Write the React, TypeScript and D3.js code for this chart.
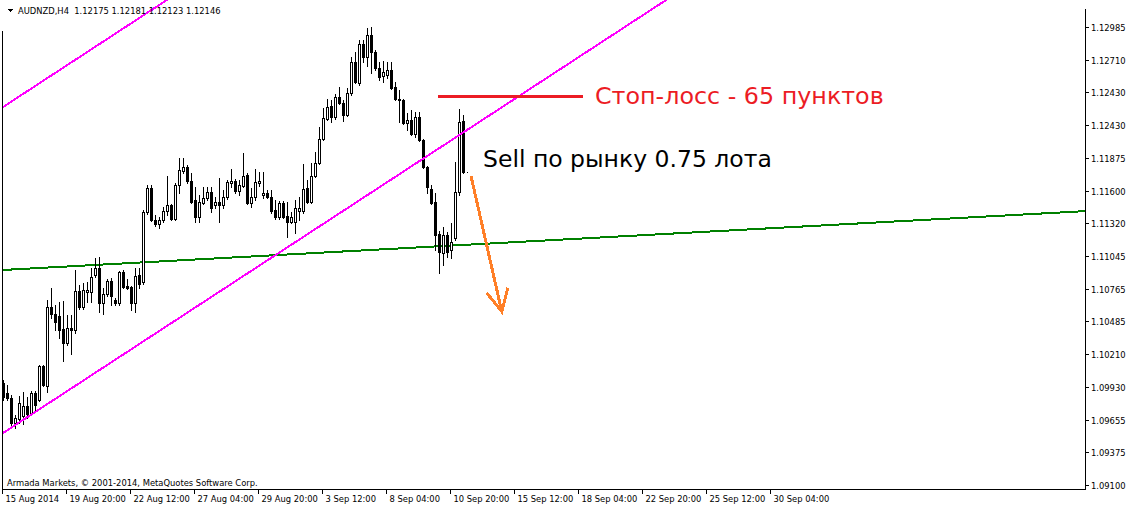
import React from "react";
import * as d3 from "d3";

// ---- Data (AUDNZD, H4) ----
const opens = [
  1.09965, 1.09881, 1.09838, 1.09626, 1.09660, 1.09685, 1.09770, 1.09711, 1.09881, 1.09821,
  1.10109, 1.09939, 1.10610, 1.10550, 1.10533, 1.10423, 1.10305, 1.10432, 1.10415, 1.10746,
  1.10610, 1.10737, 1.10737, 1.10882, 1.10941, 1.10644, 1.10720, 1.10831, 1.10669, 1.10644,
  1.10907, 1.10788, 1.10780, 1.10644, 1.10882, 1.10822, 1.11416, 1.11619, 1.11348, 1.11314,
  1.11348, 1.11425, 1.11475, 1.11356, 1.11645, 1.11764, 1.11797, 1.11679, 1.11517, 1.11373,
  1.11492, 1.11534, 1.11585, 1.11475, 1.11500, 1.11475, 1.11542, 1.11662, 1.11679, 1.11594,
  1.11636, 1.11730, 1.11492, 1.11542, 1.11662, 1.11560, 1.11577, 1.11542, 1.11433, 1.11373,
  1.11492, 1.11382, 1.11331, 1.11331, 1.11425, 1.11425, 1.11619, 1.11500, 1.11721, 1.11832,
  1.12034, 1.12205, 1.12315, 1.12221, 1.12391, 1.12341, 1.12239, 1.12425, 1.12688, 1.12510,
  1.12841, 1.12731, 1.12917, 1.12773, 1.12637, 1.12569, 1.12578, 1.12620, 1.12476, 1.12374,
  1.12366, 1.12171, 1.12196, 1.12077, 1.12221, 1.12026, 1.11797, 1.11611, 1.11500, 1.11229,
  1.11068, 1.11221, 1.11093, 1.11195, 1.11585, 1.12188, 1.11755,
];
const highs = [
  1.09990, 1.09948, 1.09864, 1.09694, 1.09855, 1.09889, 1.09847, 1.09898, 1.09898, 1.10118,
  1.10118, 1.10669, 1.10771, 1.10627, 1.10652, 1.10661, 1.10542, 1.10542, 1.10924, 1.10797,
  1.10814, 1.10822, 1.10941, 1.11025, 1.11033, 1.10771, 1.10847, 1.10856, 1.10686, 1.10916,
  1.10924, 1.10847, 1.10788, 1.10941, 1.10941, 1.11433, 1.11645, 1.11645, 1.11390, 1.11373,
  1.11458, 1.11721, 1.11483, 1.11662, 1.11874, 1.11874, 1.11814, 1.11747, 1.11627, 1.11560,
  1.11627, 1.11627, 1.11627, 1.11542, 1.11704, 1.11602, 1.11687, 1.11780, 1.11695, 1.11687,
  1.11917, 1.11747, 1.11619, 1.11780, 1.11755, 1.11755, 1.11602, 1.11602, 1.11517, 1.11509,
  1.11509, 1.11500, 1.11416, 1.11517, 1.11542, 1.11823, 1.11687, 1.11832, 1.11925, 1.12136,
  1.12298, 1.12374, 1.12366, 1.12417, 1.12476, 1.12366, 1.12468, 1.12731, 1.12773, 1.12875,
  1.12875, 1.12977, 1.12985, 1.12790, 1.12688, 1.12696, 1.12688, 1.12688, 1.12518, 1.12451,
  1.12374, 1.12256, 1.12281, 1.12264, 1.12264, 1.12035, 1.11806, 1.11645, 1.11577, 1.11255,
  1.11288, 1.11246, 1.11323, 1.11840, 1.12289, 1.12239, 1.11755,
];
const lows = [
  1.09821, 1.09821, 1.09583, 1.09583, 1.09626, 1.09617, 1.09668, 1.09702, 1.09736, 1.09813,
  1.09939, 1.09889, 1.10516, 1.10415, 1.10347, 1.10152, 1.10288, 1.10211, 1.10390, 1.10593,
  1.10593, 1.10652, 1.10652, 1.10865, 1.10567, 1.10550, 1.10703, 1.10627, 1.10627, 1.10627,
  1.10771, 1.10762, 1.10584, 1.10567, 1.10771, 1.10805, 1.11399, 1.11340, 1.11297, 1.11280,
  1.11331, 1.11390, 1.11348, 1.11348, 1.11577, 1.11747, 1.11662, 1.11492, 1.11331, 1.11331,
  1.11483, 1.11517, 1.11416, 1.11450, 1.11331, 1.11450, 1.11525, 1.11627, 1.11577, 1.11560,
  1.11627, 1.11483, 1.11458, 1.11517, 1.11636, 1.11534, 1.11534, 1.11408, 1.11356, 1.11356,
  1.11365, 1.11203, 1.11322, 1.11238, 1.11348, 1.11408, 1.11492, 1.11492, 1.11713, 1.11823,
  1.12026, 1.12196, 1.12179, 1.12205, 1.12332, 1.12188, 1.12230, 1.12408, 1.12510, 1.12493,
  1.12688, 1.12654, 1.12595, 1.12620, 1.12535, 1.12518, 1.12552, 1.12459, 1.12366, 1.12179,
  1.12162, 1.12111, 1.12069, 1.12052, 1.12018, 1.11789, 1.11577, 1.11483, 1.11093, 1.10899,
  1.10967, 1.11034, 1.11025, 1.11178, 1.11560, 1.11747, 1.11755,
];
const closes = [
  1.09847, 1.09838, 1.09626, 1.09668, 1.09796, 1.09770, 1.09702, 1.09881, 1.09779, 1.10109,
  1.09948, 1.10610, 1.10550, 1.10482, 1.10415, 1.10305, 1.10432, 1.10415, 1.10746, 1.10610,
  1.10754, 1.10754, 1.10865, 1.10941, 1.10644, 1.10720, 1.10831, 1.10703, 1.10644, 1.10907,
  1.10780, 1.10771, 1.10644, 1.10873, 1.10805, 1.11416, 1.11619, 1.11348, 1.11314, 1.11348,
  1.11425, 1.11475, 1.11356, 1.11645, 1.11772, 1.11797, 1.11679, 1.11500, 1.11373, 1.11500,
  1.11534, 1.11585, 1.11450, 1.11500, 1.11475, 1.11542, 1.11670, 1.11679, 1.11594, 1.11645,
  1.11721, 1.11492, 1.11542, 1.11670, 1.11679, 1.11577, 1.11542, 1.11425, 1.11373, 1.11492,
  1.11373, 1.11331, 1.11373, 1.11450, 1.11450, 1.11610, 1.11500, 1.11721, 1.11832, 1.12034,
  1.12213, 1.12306, 1.12221, 1.12391, 1.12341, 1.12239, 1.12425, 1.12688, 1.12518, 1.12841,
  1.12731, 1.12917, 1.12773, 1.12637, 1.12561, 1.12603, 1.12620, 1.12468, 1.12374, 1.12366,
  1.12171, 1.12196, 1.12077, 1.12221, 1.12026, 1.11797, 1.11627, 1.11492, 1.11221, 1.11076,
  1.11221, 1.11076, 1.11161, 1.11585, 1.12179, 1.11755, 1.11755,
];

const priceTickValues = [
  1.12985, 1.12708, 1.1243, 1.12153, 1.11875, 1.11598, 1.1132, 1.11043,
  1.10765, 1.10488, 1.1021, 1.09933, 1.09655, 1.09378, 1.091,
];
const priceTickLabels = [
  "1.12985", "1.12710", "1.12430", "1.12430", "1.11875", "1.11600", "1.11320", "1.11045",
  "1.10765", "1.10485", "1.10210", "1.09930", "1.09655", "1.09375", "1.09100",
];
const timeTickBars = [0, 16, 32, 48, 64, 80, 96, 112, 128, 144, 160, 176, 192];
const timeTickLabels = [
  "15 Aug 2014", "19 Aug 20:00", "22 Aug 12:00", "27 Aug 04:00", "29 Aug 20:00",
  "3 Sep 12:00", "8 Sep 04:00", "10 Sep 20:00", "15 Sep 12:00", "18 Sep 04:00",
  "22 Sep 20:00", "25 Sep 12:00", "30 Sep 04:00",
];

// trend lines: [barIndex, price] anchors
const channelLower = [[0, 1.09541], [116, 1.12111]];
const channelUpper = [[0, 1.12306], [40, 1.13193]];
const supportLine = [[0, 1.10924], [116, 1.11138]];
const stopLoss = { from: 108.75, to: 145, price: 1.124 };
const arrowShaft = [[117, 1.11721], [124.7, 1.1057]];
const arrowWings = [[120.9, 1.10731], [124.7, 1.1057], [126.2, 1.10773]];
const stopText = { bar: 148, price: 1.12332, text: "Стоп-лосс - 65 пунктов" };
const sellText = { bar: 120, price: 1.11797, text: "Sell по рынку 0.75 лота" };
const headerText = "AUDNZD,H4  1.12175 1.12181 1.12123 1.12146";
const copyrightText = "Armada Markets, © 2001-2014, MetaQuotes Software Corp.";

const W = 1129;
const H = 507;
const PL = 2.5, PR = 1085.5, PB = 489.5;

const smallFont = "'DejaVu Sans Condensed', 'DejaVu Sans', sans-serif";
const bigFont = "'DejaVu Sans', Verdana, sans-serif";
const smallSize = 9.3;

export default function App() {
  const x = d3.scaleLinear().domain([0, 270.5]).range([3, 1085]);
  const y = d3.scaleLinear().domain([1.091, 1.12985]).range([485, 27]);

  const rayPath = (pts: number[][]) => {
    const [a, b] = pts;
    const slope = (y(b[1]) - y(a[1])) / (x(b[0]) - x(a[0]));
    const x0 = 0, x1 = 1129;
    const ya = y(a[1]);
    const xa = x(a[0]);
    return d3.line()([
      [x0, ya + slope * (x0 - xa)],
      [x1, ya + slope * (x1 - xa)],
    ]) as string;
  };

  const candles = opens.map((o, i) => {
    const c = closes[i];
    const px = Math.round(x(i));
    const yo = Math.round(y(o));
    const yc = Math.round(y(c));
    const yh = Math.round(y(highs[i]));
    const yl = Math.round(y(lows[i]));
    const bull = c > o;
    const top = Math.min(yo, yc);
    const bot = Math.max(yo, yc);
    return (
      <g key={i}>
        <line x1={px + 0.5} x2={px + 0.5} y1={yh} y2={yl + 1} stroke="#000" strokeWidth={1} />
        <rect
          x={px - 0.5}
          y={top + 0.5}
          width={2}
          height={bot - top}
          fill={bull ? "#fff" : "#000"}
          stroke="#000"
          strokeWidth={1}
        />
      </g>
    );
  });

  const line = d3.line();

  return (
    <svg
      width={W}
      height={H}
      style={{ position: "absolute", left: 0, top: 0, background: "#fff", display: "block" }}
      shapeRendering="crispEdges"
    >
      <defs>
        <clipPath id="plot">
          <rect x={PL + 0.5} y={0} width={PR - PL - 1} height={PB} />
        </clipPath>
      </defs>
      <rect x={0} y={0} width={W} height={H} fill="#fff" />

      <g clipPath="url(#plot)">
        <path d={rayPath(supportLine)} stroke="#008000" strokeWidth={2} fill="none" />
        {candles}
        <path d={rayPath(channelLower)} stroke="#ff00ff" strokeWidth={2} fill="none" />
        <path d={rayPath(channelUpper)} stroke="#ff00ff" strokeWidth={2} fill="none" />
        <line
          x1={x(stopLoss.from)}
          x2={x(stopLoss.to)}
          y1={Math.round(y(stopLoss.price))}
          y2={Math.round(y(stopLoss.price))}
          stroke="#ec1c24"
          strokeWidth={3}
        />
        <path
          d={line(arrowShaft.map((p) => [x(p[0]), y(p[1])]) as [number, number][]) as string}
          stroke="#ff7f27"
          strokeWidth={3}
          fill="none"
        />
        <path
          d={line(arrowWings.map((p) => [x(p[0]), y(p[1])]) as [number, number][]) as string}
          stroke="#ff7f27"
          strokeWidth={3}
          fill="none"
        />
      </g>

      {/* frame */}
      <line x1={PL} x2={PL} y1={31} y2={PB} stroke="#000" strokeWidth={1} />
      <line x1={PR} x2={PR} y1={9} y2={PB} stroke="#000" strokeWidth={1} />
      <line x1={PL} x2={PR} y1={PB} y2={PB} stroke="#000" strokeWidth={1} />

      {/* price axis */}
      {priceTickValues.map((v, k) => {
        const yy = Math.round(y(v)) + 0.5;
        return (
          <g key={"p" + k}>
            <line x1={PR} x2={PR + 3} y1={yy} y2={yy} stroke="#000" strokeWidth={1} />
            <text x={1091} y={yy + 3.5} fontFamily={smallFont} fontSize={smallSize} fill="#000">
              {priceTickLabels[k]}
            </text>
          </g>
        );
      })}

      {/* time axis */}
      {timeTickBars.map((b, k) => {
        const xx = Math.round(x(b)) - 0.5;
        return (
          <g key={"t" + k}>
            <line x1={xx} x2={xx} y1={PB} y2={PB + 4} stroke="#000" strokeWidth={1} />
            <text x={xx + 3} y={502} fontFamily={smallFont} fontSize={smallSize} fill="#000">
              {timeTickLabels[k]}
            </text>
          </g>
        );
      })}

      {/* header */}
      <path d="M7,9 L13,9 L10,12 Z" fill="#000" />
      <text x={18} y={14} fontFamily={smallFont} fontSize={smallSize} fill="#000" style={{ whiteSpace: "pre" }}>
        {headerText}
      </text>
      <text x={7} y={486} fontFamily={smallFont} fontSize={smallSize} fill="#000">
        {copyrightText}
      </text>

      {/* annotations */}
      <text x={x(stopText.bar)} y={y(stopText.price)} fontFamily={bigFont} fontSize={23.8} fill="#ec1c24">
        {stopText.text}
      </text>
      <text x={x(sellText.bar)} y={y(sellText.price)} fontFamily={bigFont} fontSize={23.5} fill="#000">
        {sellText.text}
      </text>
    </svg>
  );
}
